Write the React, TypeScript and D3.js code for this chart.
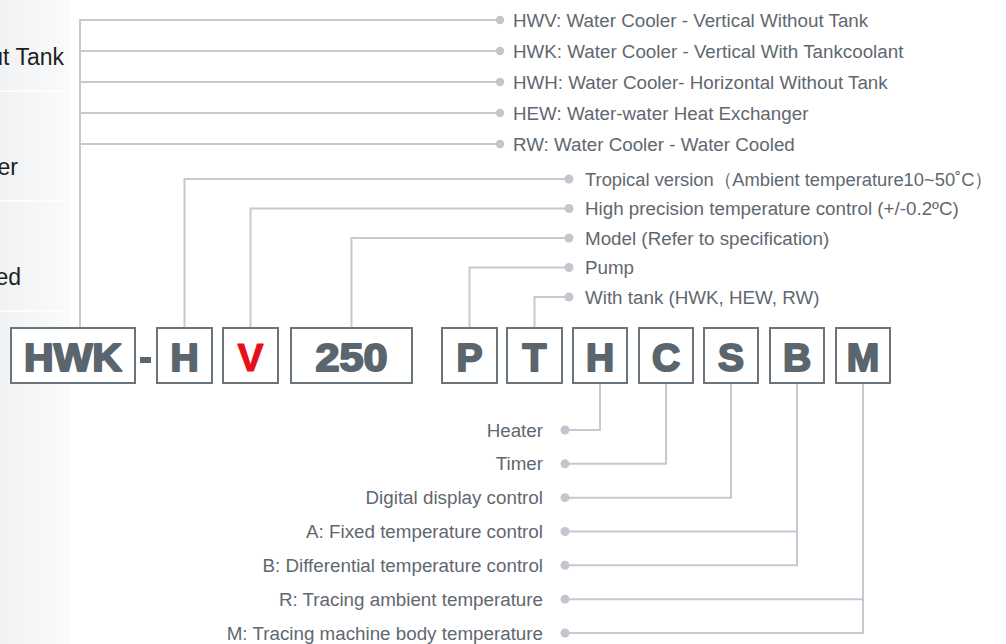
import React from "react";
import * as d3 from "d3";

// ---- data ----
const codes = ["HWK", "H", "V", "250", "P", "T", "H", "C", "S", "B", "M"];
const highlightCode = 2; // red "V"

const seriesTypes = [
  "HWV: Water Cooler - Vertical Without Tank",
  "HWK: Water Cooler - Vertical With Tankcoolant",
  "HWH: Water Cooler- Horizontal Without Tank",
  "HEW: Water-water Heat Exchanger",
  "RW: Water Cooler - Water Cooled",
];

const optionsTop = [
  "Tropical version（Ambient temperature10~50˚C）",
  "High precision temperature control (+/-0.2ºC)",
  "Model (Refer to specification)",
  "Pump",
  "With tank (HWK, HEW, RW)",
];
const optionsTopBox = [1, 2, 3, 4, 5];

const optionsBottom = [
  "Heater",
  "Timer",
  "Digital display control",
  "A: Fixed temperature control",
  "B: Differential temperature control",
  "R: Tracing ambient temperature",
  "M: Tracing machine body temperature",
];
const optionsBottomBox = [6, 7, 8, 9, 9, 10, 10];

const sideMenu = [
  "Water Cooler - Vertical Without Tank",
  "Water-water Heat Exchanger",
  "Water Cooler - Water Cooled",
];

// ---- layout ----
const W = 1006;
const H = 644;
const boxX = [11, 157, 223, 291, 442, 507, 573, 639, 704, 770, 836];
const boxW = [124, 55, 55, 121, 55, 55, 54, 54, 54, 54, 54];
const boxTop = 328;
const boxBottom = 383;
const LINE = "#c3cad1";
const DOT = "#c1c7cd";
const TEXT = "#5f6870";
const BOX_STROKE = "#6b747b";
const LETTER = "#5b656d";
const FONT = "'Liberation Sans', Arial, Helvetica, sans-serif";
const LABEL_SIZE = 18.8;

const yTypes = d3.scaleLinear().domain([0, seriesTypes.length - 1]).range([20, 144]);
const yTop = d3.scaleLinear().domain([0, optionsTop.length - 1]).range([179, 297]);
const yBottom = d3.scaleLinear().domain([0, optionsBottom.length - 1]).range([430, 633]);
const ySide = d3.scaleLinear().domain([0, sideMenu.length - 1]).range([65, 285]);
const sideEndX = [64, 18, 21];

const cx = (i: number) => boxX[i] + boxW[i] / 2;

export default function App() {
  const hwkStem = 80;
  const typeDotX = 500;
  const topDotX = 569;
  const bottomDotX = 565;

  const bottomGroups = d3.groups(
    optionsBottom.map((t, i) => ({ t, i, b: optionsBottomBox[i] })),
    (d) => d.b
  );

  return (
    <svg
      width={W}
      height={H}
      style={{ position: "absolute", left: 0, top: 0, background: "#fff" }}
      fontFamily={FONT}
    >
      <defs>
        <linearGradient id="side" x1="0" x2="1" y1="0" y2="0">
          <stop offset="0" stopColor="#f0f2f4" />
          <stop offset="1" stopColor="#fafbfb" />
        </linearGradient>
      </defs>
      <rect x={0} y={0} width={W} height={H} fill="#fff" />
      {/* side menu panel */}
      <rect x={0} y={0} width={70} height={H} fill="url(#side)" />
      {sideMenu.map((t, i) => (
        <g key={"s" + i}>
          <text x={sideEndX[i]} y={ySide(i)} textAnchor="end" fontSize={23} fill="#1d1f21">
            {t}
          </text>
          <line x1={0} x2={66} y1={ySide(i) + 26} y2={ySide(i) + 26} stroke="#ffffff" strokeWidth={1.5} />
        </g>
      ))}

      {/* series types connectors */}
      <line x1={hwkStem} x2={hwkStem} y1={boxTop} y2={yTypes(0)} stroke={LINE} strokeWidth={2} />
      {seriesTypes.map((t, i) => (
        <g key={"t" + i}>
          <line x1={hwkStem - 1} x2={typeDotX} y1={yTypes(i)} y2={yTypes(i)} stroke={LINE} strokeWidth={2} />
          <circle cx={typeDotX} cy={yTypes(i)} r={4.2} fill={DOT} />
          <text x={513} y={yTypes(i)} dy="0.35em" fontSize={LABEL_SIZE} fill={TEXT}>
            {t}
          </text>
        </g>
      ))}

      {/* top options */}
      {optionsTop.map((t, i) => {
        const x = cx(optionsTopBox[i]);
        const y = yTop(i);
        return (
          <g key={"o" + i}>
            <path
              d={`M${x},${boxTop} V${y} H${topDotX}`}
              fill="none"
              stroke={LINE}
              strokeWidth={2}
            />
            <circle cx={topDotX} cy={y} r={4.5} fill={DOT} />
            <text
              x={585}
              y={y}
              dy="0.35em"
              fontSize={LABEL_SIZE}
              fill={TEXT}
              {...(i === 0 ? { textLength: 408, lengthAdjust: "spacingAndGlyphs" } : {})}
            >
              {t}
            </text>
          </g>
        );
      })}

      {/* bottom options */}
      {bottomGroups.map(([b, items]) => {
        const x = cx(b);
        const last = d3.max(items, (d) => yBottom(d.i)) as number;
        return (
          <g key={"b" + b}>
            <line x1={x} x2={x} y1={boxBottom} y2={last} stroke={LINE} strokeWidth={2} />
            {items.map((d) => (
              <line
                key={d.i}
                x1={bottomDotX}
                x2={x + 1}
                y1={yBottom(d.i)}
                y2={yBottom(d.i)}
                stroke={LINE}
                strokeWidth={2}
              />
            ))}
          </g>
        );
      })}
      {optionsBottom.map((t, i) => (
        <g key={"bt" + i}>
          <circle cx={bottomDotX} cy={yBottom(i)} r={4.5} fill={DOT} />
          <text x={543} y={yBottom(i)} dy="0.35em" textAnchor="end" fontSize={LABEL_SIZE} fill={TEXT}>
            {t}
          </text>
        </g>
      ))}

      {/* code boxes */}
      {codes.map((c, i) => (
        <g key={"c" + i}>
          <rect
            x={boxX[i]}
            y={boxTop}
            width={boxW[i]}
            height={boxBottom - boxTop}
            fill="#fff"
            stroke={BOX_STROKE}
            strokeWidth={2}
          />
          <text
            x={cx(i)}
            y={371}
            textAnchor="middle"
            fontSize={39}
            fontWeight="bold"
            fill={i === highlightCode ? "#e60f19" : LETTER}
            stroke={i === highlightCode ? "#e60f19" : LETTER}
            strokeWidth={i === highlightCode ? 1 : 2}
            strokeLinejoin="round"
            {...(c.length > 1 ? { textLength: c === "HWK" ? 98 : 72, lengthAdjust: "spacingAndGlyphs" } : {})}
          >
            {c}
          </text>
        </g>
      ))}
      {/* dash between HWK and H */}
      <rect x={140} y={357} width={11} height={6} fill={LETTER} />
    </svg>
  );
}
